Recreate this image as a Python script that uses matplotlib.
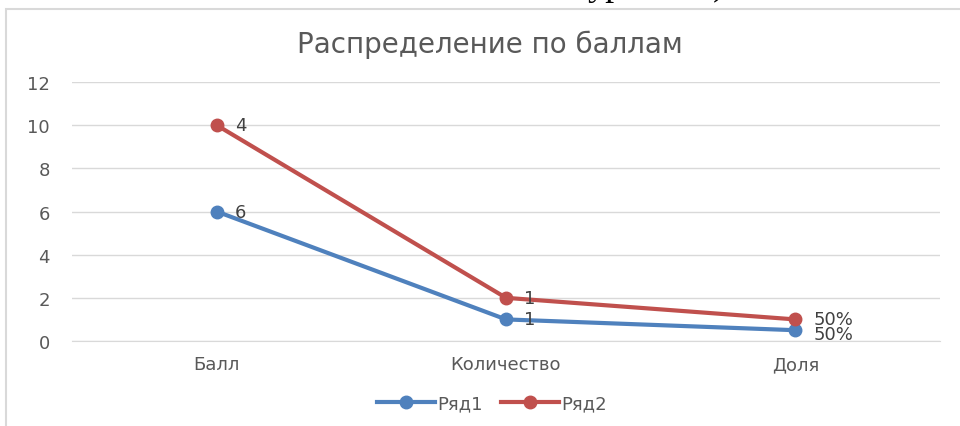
import numpy as np
import matplotlib.pyplot as plt
from matplotlib.patches import Rectangle
from matplotlib.lines import Line2D

# Data (stacked line chart: Ряд2 is drawn on top of Ряд1)
categories = ["Балл", "Количество", "Доля"]
series1 = [6, 1, 0.5]
series2 = [4, 1, 0.5]
labels1 = ["6", "1", "50%"]
labels2 = ["4", "1", "50%"]
series_names = ["Ряд1", "Ряд2"]

C1, C2 = "#4F81BD", "#C0504D"
TXT = "#595959"

plt.rcParams["font.family"] = ["DejaVu Sans"]

fig = plt.figure(figsize=(9.6, 4.27), dpi=100)

# chart frame (light border, partially outside the picture)
fig.patches.append(Rectangle((6 / 960, -0.1), 1.1, 1 - 10 / 427 + 0.1,
                             transform=fig.transFigure, fill=False,
                             edgecolor="#d9d9d9", linewidth=1.5))
# document text cut off above the chart
fig.text(588 / 960, 1 + 5 / 427, "уровней)", family="Liberation Serif", fontsize=26,
         ha="left", va="baseline", color="black")

ax = fig.add_axes([72 / 960, 1 - 342 / 427, 868 / 960, 259 / 427])
x = np.arange(len(categories))
s1 = np.array(series1, dtype=float)
s2 = s1 + np.array(series2, dtype=float)

ax.plot(x, s1, color=C1, lw=3, marker="o", ms=9, zorder=3)
ax.plot(x, s2, color=C2, lw=3, marker="o", ms=9, zorder=3)

for xi, yi, t in zip(x, s1, labels1):
    dy = -2.5 if t.endswith("%") else 0
    ax.annotate(t, (xi, yi), xytext=(13, dy), textcoords="offset points",
                ha="left", va="center", fontsize=13, color="#404040")
for xi, yi, t in zip(x, s2, labels2):
    ax.annotate(t, (xi, yi), xytext=(13, 0), textcoords="offset points",
                ha="left", va="center", fontsize=13, color="#404040")

ax.set_xlim(-0.5, len(categories) - 0.5)
ax.set_ylim(0, 12)
ax.set_yticks(range(0, 13, 2))
ax.set_xticks(x)
ax.set_xticklabels(categories)
ax.tick_params(axis="both", length=0, labelsize=13, colors=TXT)
ax.tick_params(axis="x", pad=10)
ax.tick_params(axis="y", pad=16)
ax.grid(axis="y", color="#d9d9d9", lw=1)
ax.set_axisbelow(True)
for side in ["top", "right", "left"]:
    ax.spines[side].set_visible(False)
ax.spines["bottom"].set_color("#d9d9d9")

fig.text(490 / 960, 1 - 45 / 427, "Распределение по баллам", ha="center",
         va="center", fontsize=20, color=TXT)

handles = [Line2D([], [], color=c, lw=3, marker="o", ms=9) for c in (C1, C2)]
fig.legend(handles, series_names, loc="center", bbox_to_anchor=(492 / 960, 1 - 404 / 427),
           ncol=2, frameon=False, fontsize=13, labelcolor=TXT,
           handlelength=3.2, handletextpad=0.15, columnspacing=1.0)

fig.savefig("out.png", dpi=100)
